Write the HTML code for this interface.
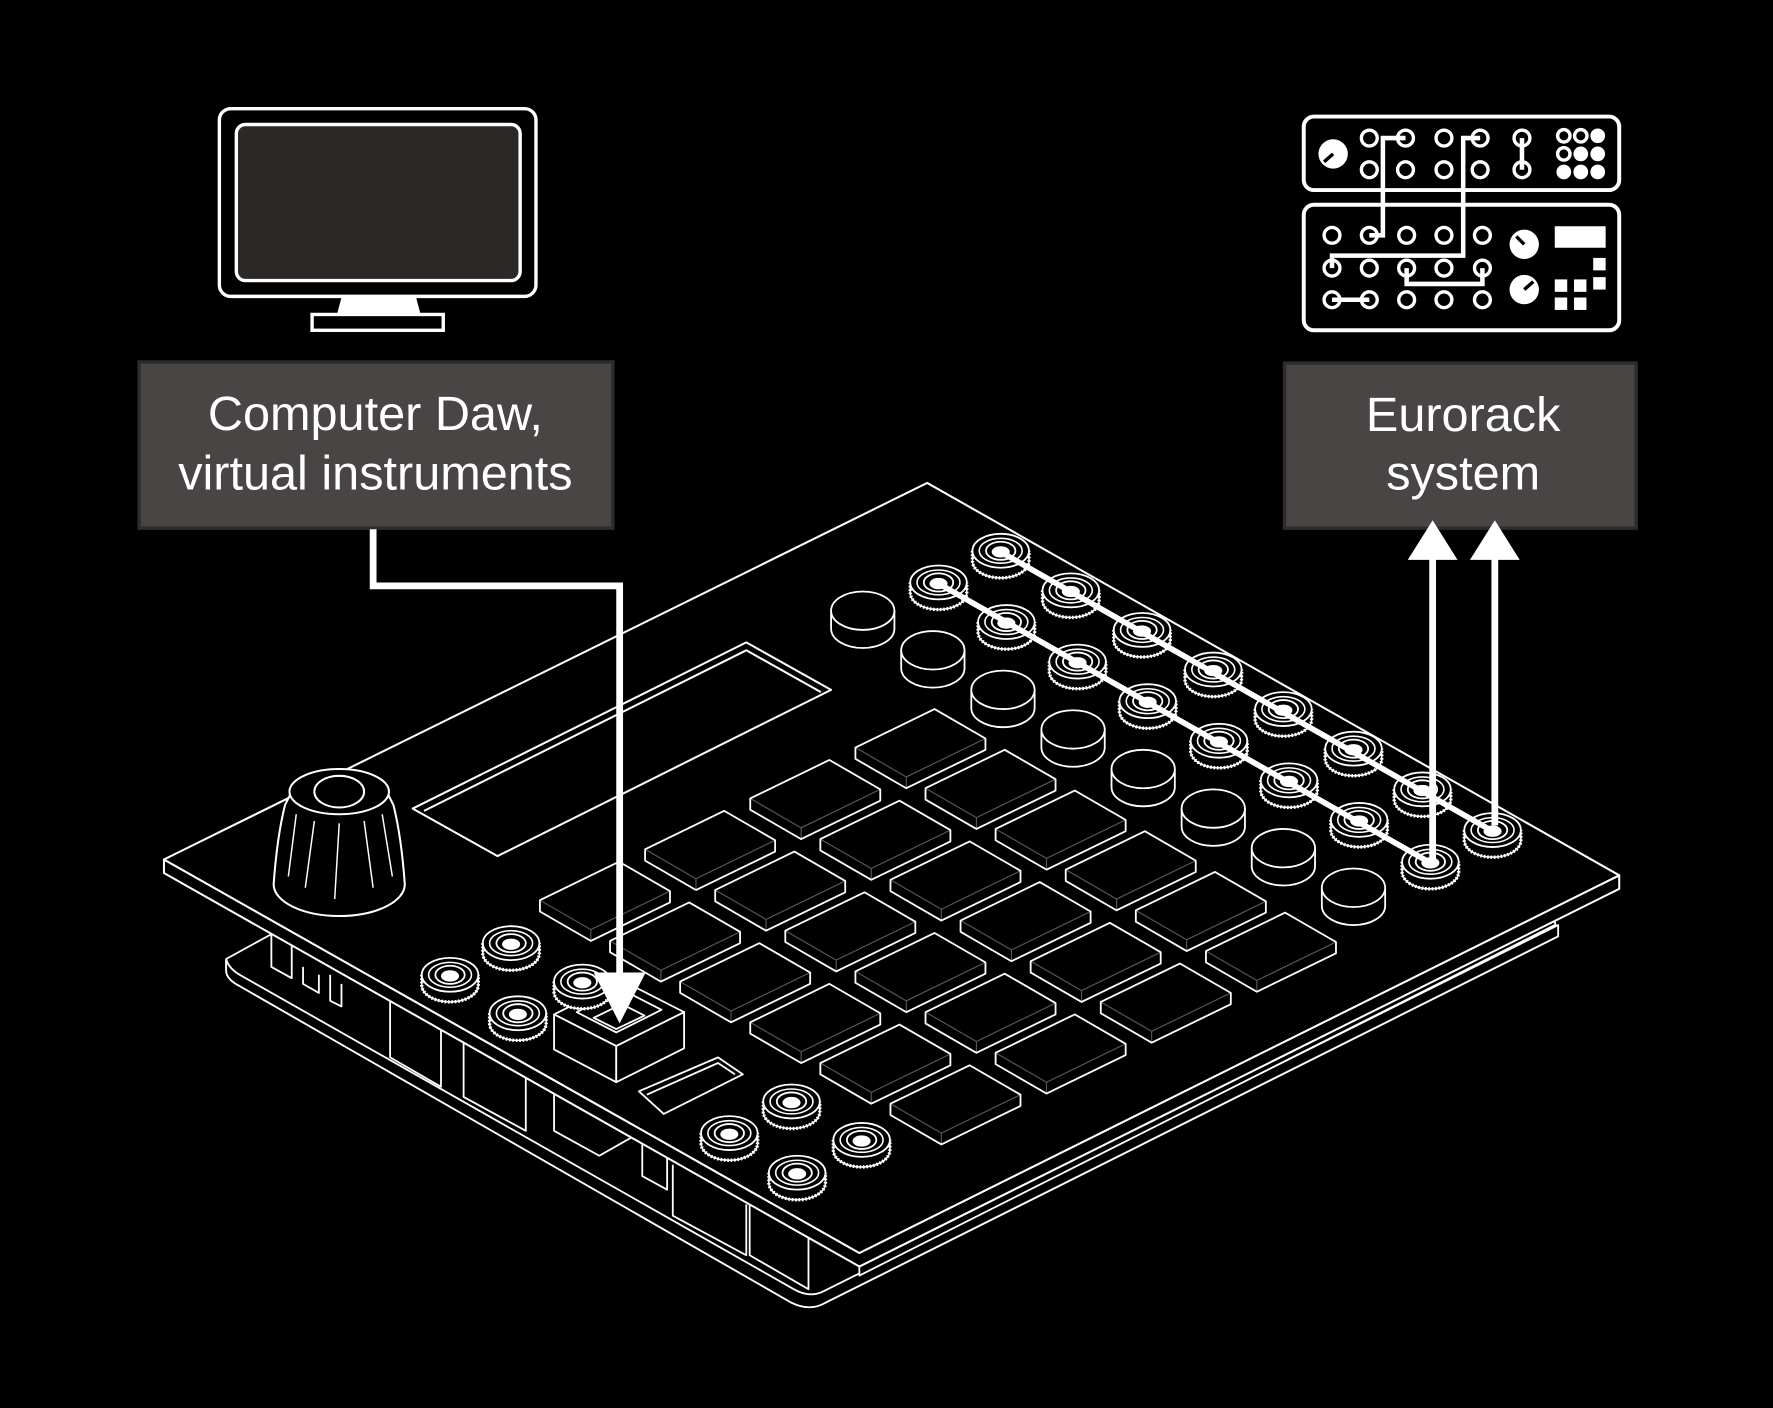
<!DOCTYPE html>
<html><head><meta charset="utf-8"><style>
html,body{margin:0;padding:0;background:#000;}
svg{display:block;}
text{font-family:"Liberation Sans",sans-serif;fill:#fff;}
</style></head><body>
<svg width="1773" height="1408" viewBox="0 0 1568 1245" xmlns="http://www.w3.org/2000/svg">
<rect width="1568" height="1245" fill="#000"/>
<defs>
<g id="pad"><path d="M-57.5,1 L12.5,-33 L57.5,-7 L57.5,3 L-12.5,37 L-57.5,11 Z" fill="#000" stroke="#fff" stroke-width="1.6" stroke-linejoin="round"/><path d="M-57.5,1 L-12.5,27 L57.5,-7 M-12.5,27 V37" fill="none" stroke="#fff" stroke-width="1" stroke-opacity="0.35"/></g>
<g id="btn"><path d="M-28,0 L-28,16 A28,17 0 0 0 28,16 L28,0" fill="#000" stroke="#fff" stroke-width="1.6"/><ellipse cx="0" cy="0" rx="28" ry="17" fill="#000" stroke="#fff" stroke-width="1.6"/></g>
<g id="jack"><path d="M-25,0 L-25,9 A25,15 0 0 0 25,9 L25,0" fill="#000" stroke="#fff" stroke-width="3" stroke-dasharray="1.5 1.5"/><path d="M-25,0 L-25,9 A25,15 0 0 0 25,9 L25,0" fill="none" stroke="#fff" stroke-width="1.4"/><ellipse rx="25" ry="15" fill="#000" stroke="#fff" stroke-width="1.6"/><ellipse rx="19" ry="11" fill="none" stroke="#fff" stroke-width="1.4"/><ellipse rx="13" ry="8" fill="none" stroke="#fff" stroke-width="1.6"/><ellipse cy="1" rx="8" ry="5" fill="#fff"/></g>
</defs>

<!-- monitor -->
<rect x="194" y="96" width="280" height="166" rx="10" fill="#000" stroke="#fff" stroke-width="3"/>
<rect x="209" y="110" width="251" height="138" rx="8" fill="#2b2827" stroke="#fff" stroke-width="3"/>
<polygon points="302,263 368,263 372,278 298,278" fill="#fff"/>
<rect x="276" y="278" width="116" height="14" fill="#000" stroke="#fff" stroke-width="3"/>

<!-- eurorack -->
<g fill="none" stroke="#fff" stroke-width="3.5">
<rect x="1153" y="103" width="279" height="65" rx="9"/>
<rect x="1153" y="181" width="279" height="111" rx="9"/>
<g stroke-width="3">
<circle cx="1211" cy="122" r="7"/><circle cx="1243" cy="122" r="7"/><circle cx="1277" cy="122" r="7"/><circle cx="1309" cy="122" r="7"/><circle cx="1346" cy="122" r="7"/>
<circle cx="1211" cy="150" r="7"/><circle cx="1243" cy="150" r="7"/><circle cx="1277" cy="150" r="7"/><circle cx="1309" cy="150" r="7"/><circle cx="1346" cy="150" r="7"/>
<circle cx="1178" cy="208" r="7"/><circle cx="1211" cy="208" r="7"/><circle cx="1244" cy="208" r="7"/><circle cx="1277" cy="208" r="7"/><circle cx="1311" cy="208" r="7"/>
<circle cx="1178" cy="237" r="7"/><circle cx="1211" cy="237" r="7"/><circle cx="1244" cy="237" r="7"/><circle cx="1277" cy="237" r="7"/><circle cx="1311" cy="237" r="7"/>
<circle cx="1178" cy="265" r="7"/><circle cx="1211" cy="265" r="7"/><circle cx="1244" cy="265" r="7"/><circle cx="1277" cy="265" r="7"/><circle cx="1311" cy="265" r="7"/>
<circle cx="1383" cy="120" r="5.5"/><circle cx="1398" cy="120" r="5.5"/><circle cx="1383" cy="136" r="5.5"/>
</g>
<path d="M1211,208 H1223 V122 H1243" stroke-width="4"/>
<path d="M1178,237 V226 H1294 V122 H1309" stroke-width="4"/>
<path d="M1244,237 V251 H1311 V237" stroke-width="4"/>
<path d="M1178,265 H1211" stroke-width="4"/>
<path d="M1346,122 V150" stroke-width="4"/>
</g>
<g fill="#fff">
<circle cx="1413" cy="120" r="6.5"/><circle cx="1398" cy="136" r="6.5"/><circle cx="1413" cy="136" r="6.5"/>
<circle cx="1383" cy="152" r="6.5"/><circle cx="1398" cy="152" r="6.5"/><circle cx="1413" cy="152" r="6.5"/>
<circle cx="1179" cy="136" r="13"/><circle cx="1348" cy="216" r="13"/><circle cx="1348" cy="256" r="13"/>
<rect x="1375" y="200" width="45" height="19"/>
<rect x="1409" y="228" width="11" height="11"/><rect x="1409" y="245" width="11" height="11"/>
<rect x="1375" y="247" width="11" height="11"/><rect x="1392" y="247" width="11" height="11"/>
<rect x="1375" y="263" width="11" height="11"/><rect x="1392" y="263" width="11" height="11"/>
</g>
<g stroke="#000" stroke-width="3"><line x1="1179" y1="136" x2="1171" y2="143"/><line x1="1348" y1="216" x2="1341" y2="209"/><line x1="1348" y1="256" x2="1356" y2="249"/></g>

<!-- labels -->
<rect x="123" y="320" width="419" height="147" fill="#484544" stroke="#2e2c2b" stroke-width="3"/>
<text x="332" y="380" font-size="43" text-anchor="middle">Computer Daw,</text>
<text x="332" y="433" font-size="43" text-anchor="middle">virtual instruments</text>
<rect x="1136" y="321" width="311" height="146" fill="#484544" stroke="#2e2c2b" stroke-width="3"/>
<text x="1294" y="381" font-size="43" text-anchor="middle">Eurorack</text>
<text x="1294" y="433" font-size="43" text-anchor="middle">system</text>

<!-- device lower plate -->
<g fill="#000" stroke="#fff" stroke-width="1.6" stroke-linejoin="round">
<path d="M200,848 L240,826 L1375,815 L1378,828 L730,1152 Q716,1160 700,1152 L212,872 Q200,866 200,858 Z"/>
<path d="M200,848 L200,858 Q200,866 212,872 L700,1152 Q716,1160 730,1152 L1378,828 L1378,818 L728,1142 Q716,1148 702,1140 L212,862 Q202,856 200,848"/>
<path d="M345,880 V935 L390,961 V905"/>
<path d="M410,915 V970 L465,1000 V945"/>
<path d="M490,960 V1000 L530,1022 L560,1005 V985"/>
<path d="M595,1030 V1075 L660,1110 V1065"/>
<path d="M663,1063 V1110 L715,1140 V1090"/>
<path d="M240,826 V855 L258,865 V835"/>
<path d="M268,855 V870 L282,878 V862 M292,862 V885 L302,890 V870"/>
<path d="M568,1012 V1040 L590,1052 V1022"/>
<path d="M760,1115 V1128 L1375,818"/>
</g>

<!-- top plate -->
<g fill="#000" stroke="#fff" stroke-width="1.8" stroke-linejoin="round">
<polygon points="145,760 145,772 760,1120 1432,786 1432,774 760,1108"/>
<polygon points="145,760 820,427 1432,774 760,1108"/>
<polygon points="365,715 660,568 735,610 440,757"/>
<polyline points="375,717 660,575 726,612" fill="none"/>
</g>

<!-- knob -->
<g fill="#000" stroke="#fff" stroke-width="1.8">
<path d="M242,782 Q245,740 252,712 L258,700 Q270,690 300,684 Q330,690 342,700 L348,712 Q355,740 358,782 A58,28 0 0 1 242,782 Z"/>
<ellipse cx="300" cy="700" rx="44" ry="20"/>
<ellipse cx="300" cy="700" rx="22" ry="14"/>
<path d="M262,720 L255,775 M278,726 L270,785 M300,728 L296,795 M322,726 L330,785 M338,720 L347,775" fill="none" stroke-width="1.3"/>
</g>

<!-- pads -->
<g>
<use href="#pad" x="535" y="795"/><use href="#pad" x="628" y="750"/><use href="#pad" x="721" y="705"/><use href="#pad" x="814" y="660"/>
<use href="#pad" x="597" y="831"/><use href="#pad" x="690" y="786"/><use href="#pad" x="783" y="741"/><use href="#pad" x="876" y="696"/>
<use href="#pad" x="659" y="867"/><use href="#pad" x="752" y="822"/><use href="#pad" x="845" y="777"/><use href="#pad" x="938" y="732"/>
<use href="#pad" x="721" y="903"/><use href="#pad" x="814" y="858"/><use href="#pad" x="907" y="813"/><use href="#pad" x="1000" y="768"/>
<use href="#pad" x="783" y="939"/><use href="#pad" x="876" y="894"/><use href="#pad" x="969" y="849"/><use href="#pad" x="1062" y="804"/>
<use href="#pad" x="845" y="975"/><use href="#pad" x="938" y="930"/><use href="#pad" x="1031" y="885"/><use href="#pad" x="1124" y="840"/>
</g>
<!-- round buttons -->
<g>
<use href="#btn" x="763" y="540"/><use href="#btn" x="825" y="575"/><use href="#btn" x="887" y="610"/><use href="#btn" x="949" y="645"/>
<use href="#btn" x="1011" y="680"/><use href="#btn" x="1073" y="715"/><use href="#btn" x="1135" y="750"/><use href="#btn" x="1197" y="785"/>
</g>

<!-- usb box & slot -->
<g fill="#000" stroke="#fff" stroke-width="1.6" stroke-linejoin="round">
<polygon points="490,897 550,867 605,895 545,925"/>
<polygon points="490,897 545,925 545,957 490,928"/>
<polygon points="545,925 605,895 605,927 545,957"/>
<polygon points="510,895 550,875 585,893 545,913"/>
<polygon points="525,900 550,888 570,898 545,910"/>
<polygon points="565,965 635,935 657,950 587,985"/>
<polyline points="572,968 635,940 650,950" fill="none"/>
</g>

<!-- jacks -->
<g>
<use href="#jack" x="398" y="862"/><use href="#jack" x="452" y="834"/><use href="#jack" x="458" y="896"/><use href="#jack" x="515" y="868"/>
<use href="#jack" x="645" y="1002"/><use href="#jack" x="700" y="974"/><use href="#jack" x="705" y="1037"/><use href="#jack" x="762" y="1008"/>
</g>
<g>
<use href="#jack" x="885" y="487"/><use href="#jack" x="947" y="522"/><use href="#jack" x="1010" y="557"/><use href="#jack" x="1073" y="592"/>
<use href="#jack" x="1135" y="627"/><use href="#jack" x="1197" y="662"/><use href="#jack" x="1258" y="698"/><use href="#jack" x="1320" y="734"/>
<use href="#jack" x="830" y="515"/><use href="#jack" x="890" y="550"/><use href="#jack" x="953" y="585"/><use href="#jack" x="1015" y="620"/>
<use href="#jack" x="1078" y="655"/><use href="#jack" x="1140" y="690"/><use href="#jack" x="1202" y="725"/><use href="#jack" x="1265" y="762"/>
</g>
<g stroke="#fff" stroke-width="5" stroke-linecap="round">
<line x1="885" y1="488" x2="1320" y2="735"/>
<line x1="830" y1="516" x2="1265" y2="763"/>
</g>

<!-- arrows -->
<g fill="none" stroke="#fff" stroke-width="6">
<path d="M330,468 V518 H548 V865"/>
<path d="M1267,765 V492"/>
<path d="M1322,730 V492"/>
</g>
<g fill="#fff">
<polygon points="525,860 571,860 548,905"/>
<polygon points="1245,495 1289,495 1267,460"/>
<polygon points="1300,495 1344,495 1322,460"/>
</g>
</svg>
</body></html>
